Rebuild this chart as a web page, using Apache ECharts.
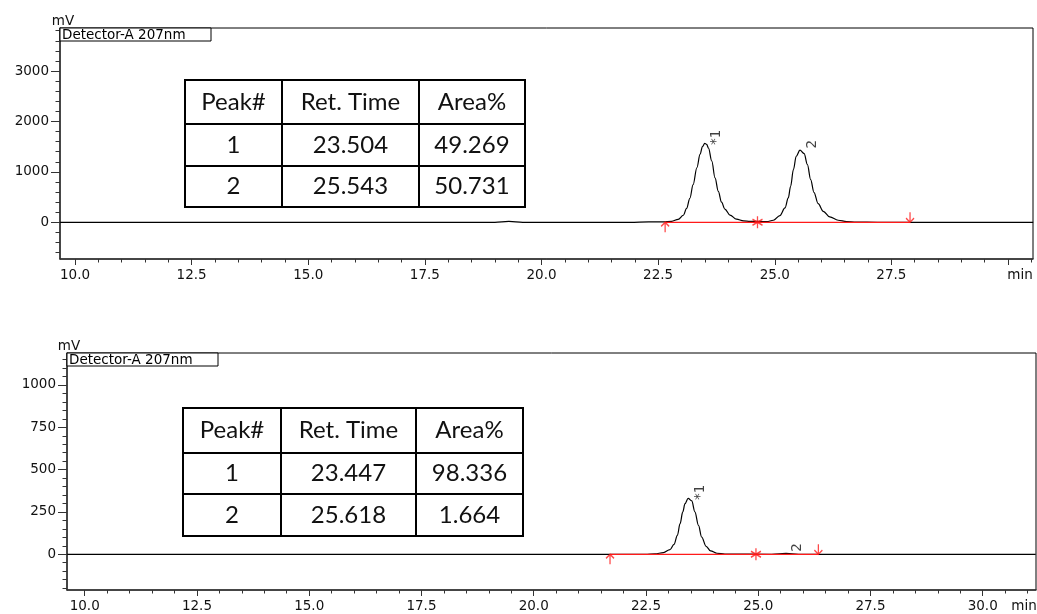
<!doctype html>
<html>
<head>
	<meta charset="UTF-8">
	<title>Detector-A 207nm</title>
	<script src="https://cdn.jsdelivr.net/npm/echarts@6/dist/echarts.min.js"></script>
	<style>
		html, body {
			margin: 0;
			padding: 0;
			background: #fff;
		}
		#chart {
			width: 1037px;
			height: 614px;
		}
	</style>
</head>
<body>
<div id="chart"></div>
<script>
	// upper run (racemic)
	var topTime = [9.68, 19.0, 19.3, 19.6, 21.9, 22.3, 22.61, 22.79, 22.93, 23.04, 23.11, 23.18, 23.25, 23.33, 23.40, 23.45, 23.50, 23.54, 23.58, 23.65, 23.72, 23.79, 23.86, 23.93, 24.04, 24.18, 24.33, 24.47, 24.63, 24.83, 24.97, 25.11, 25.22, 25.29, 25.34, 25.40, 25.46, 25.54, 25.63, 25.70, 25.77, 25.84, 25.93, 26.04, 26.18, 26.36, 26.54, 26.75, 27.2, 30.54];
	var topSignal = [0, 0, 18, 0, 0, 10, 7, 20, 59, 140, 275, 475, 745, 1080, 1350, 1500, 1565, 1545, 1470, 1215, 880, 612, 398, 263, 142, 62, 28, 20, 18, 12, 40, 132, 284, 483, 714, 1044, 1309, 1430, 1362, 1144, 846, 595, 370, 218, 106, 40, 13, 3, 0, 0];
	var topMarks = [22.65, 24.63, 27.9];
	var topPeakTime = [23.504, 25.543];
	var topPeakHeight = [1565, 1430];
	var topArea = [49.269, 50.731];

	// lower run (enriched)
	var bottomTime = [9.61, 22.48, 22.70, 22.89, 23.036, 23.125, 23.20, 23.26, 23.32, 23.37, 23.44, 23.52, 23.59, 23.67, 23.74, 23.84, 23.94, 24.08, 24.26, 25.3, 25.62, 25.9, 31.18];
	var bottomSignal = [0, 0, 2, 10, 28, 59, 112, 181, 250, 299, 330, 315, 250, 171, 102, 47, 20, 6, 1, 0, 5, 0, 0];
	var bottomMarks = [21.70, 24.95, 26.34];
	var bottomPeakTime = [23.447, 25.618];
	var bottomPeakHeight = [330, 5];
	var bottomArea = [98.336, 1.664];

	var peakNames = ['*1', '2'];
	var tableHead = ['Peak#', 'Ret. Time', 'Area%'];

	var topXLabels = [10, 12.5, 15, 17.5, 20, 22.5, 25, 27.5];
	var bottomXLabels = [10, 12.5, 15, 17.5, 20, 22.5, 25, 27.5, 30];
	var xMajor = [10, 12.5, 15, 17.5, 20, 22.5, 25, 27.5, 30];
	var topYLabels = [0, 1000, 2000, 3000];
	var bottomYLabels = [0, 250, 500, 750, 1000];

	function steps(a, b, s) {
		var out = [];
		for (var v = a; v <= b + 1e-9; v += s) out.push(+v.toFixed(3));
		return out;
	}

	var FONT = 'DejaVu Sans';
	var INK = '#111';
	var RED = '#ff1a1a';

	function pairs(xs, ys) {
		return xs.map(function (x, i) { return [x, ys[i]]; });
	}

	function xAxes(gi, min, max, labels, minors) {
		return [{
			gridIndex: gi, type: 'value', position: 'bottom', min: min, max: max,
			axisLine: {show: true, onZero: false, lineStyle: {color: '#333', width: 1.5}},
			axisTick: {show: true, length: 6, customValues: xMajor, lineStyle: {color: '#333'}},
			axisLabel: {
				customValues: labels, margin: 9, fontFamily: FONT, fontSize: 13.5, color: INK,
				formatter: function (v) { return v.toFixed(1); }
			},
			splitLine: {show: false}
		}, {
			gridIndex: gi, type: 'value', position: 'bottom', min: min, max: max,
			axisLine: {show: false, onZero: false},
			axisTick: {show: true, length: 3.5, customValues: minors, lineStyle: {color: '#333'}},
			axisLabel: {show: false},
			splitLine: {show: false}
		}];
	}

	function yAxes(gi, min, max, labels, minors) {
		return [{
			gridIndex: gi, type: 'value', position: 'left', min: min, max: max,
			axisLine: {show: true, onZero: false, lineStyle: {color: '#333', width: 1.5}},
			axisTick: {show: true, length: 9, customValues: labels, lineStyle: {color: '#333'}},
			axisLabel: {
				customValues: labels, margin: 11, fontFamily: FONT, fontSize: 13.5, color: INK,
				formatter: function (v) { return String(v); }
			},
			splitLine: {show: false}
		}, {
			gridIndex: gi, type: 'value', position: 'left', min: min, max: max,
			axisLine: {show: false, onZero: false},
			axisTick: {show: true, length: 4.5, customValues: minors, lineStyle: {color: '#333'}},
			axisLabel: {show: false},
			splitLine: {show: false}
		}];
	}

	var upArrow = 'path://M5,0 L5,12 M1,5 L5,0 L9,5';
	var downArrow = 'path://M5,12 L5,0 M1,7 L5,12 L9,7';
	var star = 'path://M5,0 L5,12 M0,3 L10,9 M0,9 L10,3';

	function runSeries(ai, time, signal, marks, peakT, peakH) {
		return [{
			type: 'line', xAxisIndex: ai, yAxisIndex: ai,
			data: pairs(time, signal),
			showSymbol: false, smooth: 0.35, smoothMonotone: 'x',
			lineStyle: {color: '#000', width: 1.2}, z: 2, silent: true
		}, {
			type: 'line', xAxisIndex: ai, yAxisIndex: ai,
			data: marks.map(function (t) { return [t, 0]; }),
			showSymbol: false, lineStyle: {color: RED, width: 1.2}, z: 3, silent: true
		}, {
			type: 'scatter', xAxisIndex: ai, yAxisIndex: ai, z: 4, silent: true,
			itemStyle: {color: 'none', borderColor: RED, borderWidth: 1.4},
			data: [
				{value: [marks[0], 0], symbol: upArrow, symbolSize: [8, 10], symbolOffset: [0, 5]},
				{value: [marks[1], 0], symbol: star, symbolSize: [10, 12], symbolOffset: [0, 0]},
				{value: [marks[2], 0], symbol: downArrow, symbolSize: [8, 10], symbolOffset: [0, -5]}
			]
		}, {
			type: 'scatter', xAxisIndex: ai, yAxisIndex: ai, z: 5, silent: true,
			symbolSize: 0,
			data: pairs(peakT, peakH),
			label: {
				show: true, position: [12, -6], rotate: 90, align: 'center', verticalAlign: 'middle',
				fontFamily: FONT, fontSize: 13.5, color: INK,
				formatter: function (p) { return peakNames[p.dataIndex]; }
			}
		}];
	}

	function table(x, y, cols, rows, peakT, area) {
		var els = [];
		var body = [tableHead];
		peakT.forEach(function (t, i) {
			body.push([String(i + 1), t.toFixed(3), area[i].toFixed(3)]);
		});
		for (var r = 0; r < body.length; r++) {
			for (var c = 0; c < body[r].length; c++) {
				var x0 = x + cols[c], x1 = x + cols[c + 1];
				var y0 = y + rows[r], y1 = y + rows[r + 1];
				els.push({
					type: 'rect', shape: {x: x0, y: y0, width: x1 - x0, height: y1 - y0},
					style: {fill: '#fff', stroke: '#000', lineWidth: 2}, z: 10
				});
				els.push({
					type: 'text', z: 11,
					style: {
						text: body[r][c], x: (x0 + x1) / 2, y: (y0 + y1) / 2,
						align: 'center', verticalAlign: 'middle',
						fontFamily: 'Lato', fontSize: 24, fill: '#111'
					}
				});
			}
		}
		return els;
	}

	function detectorBox(x, y) {
		return [{
			type: 'rect', shape: {x: x, y: y, width: 151, height: 13},
			style: {fill: '#fff', stroke: '#000', lineWidth: 1}, z: 10
		}, {
			type: 'text', z: 11,
			style: {
				text: 'Detector-A 207nm', x: x + 2, y: y + 7, verticalAlign: 'middle',
				fontFamily: FONT, fontSize: 13.5, fill: '#000'
			}
		}];
	}

	function unitText(t, x, y) {
		return {
			type: 'text', z: 11,
			style: {
				text: t, x: x, y: y, align: 'center', verticalAlign: 'middle',
				fontFamily: FONT, fontSize: 13.5, fill: INK
			}
		};
	}

	var chart = echarts.init(document.getElementById('chart'));
	chart.setOption({
		animation: false,
		backgroundColor: '#fff',
		grid: [
			{left: 60, top: 28, width: 973, height: 231, show: true, borderColor: '#000', borderWidth: 1},
			{left: 67, top: 353, width: 969, height: 237, show: true, borderColor: '#000', borderWidth: 1}
		],
		xAxis: [].concat(
			xAxes(0, 9.678, 30.536, topXLabels, steps(10, 30.5, 0.5)),
			xAxes(1, 9.606, 31.187, bottomXLabels, steps(10, 31, 0.5))
		),
		yAxis: [].concat(
			yAxes(0, -728, 3853, topYLabels, steps(-600, 3800, 200)),
			yAxes(1, -211, 1189, bottomYLabels, steps(-200, 1150, 50))
		),
		series: [].concat(
			runSeries(0, topTime, topSignal, topMarks, topPeakTime, topPeakHeight),
			runSeries(2, bottomTime, bottomSignal, bottomMarks, bottomPeakTime, bottomPeakHeight)
		),
		graphic: [].concat(
			detectorBox(60, 28),
			detectorBox(67, 353),
			[unitText('mV', 63, 21), unitText('mV', 69, 346), unitText('min', 1020, 275), unitText('min', 1024, 606)],
			table(185, 80, [0, 97, 234, 340], [0, 44, 86, 127], topPeakTime, topArea),
			table(183, 408, [0, 98, 233, 340], [0, 45, 86, 128], bottomPeakTime, bottomArea)
		)
	});
</script>
</body>
</html>
